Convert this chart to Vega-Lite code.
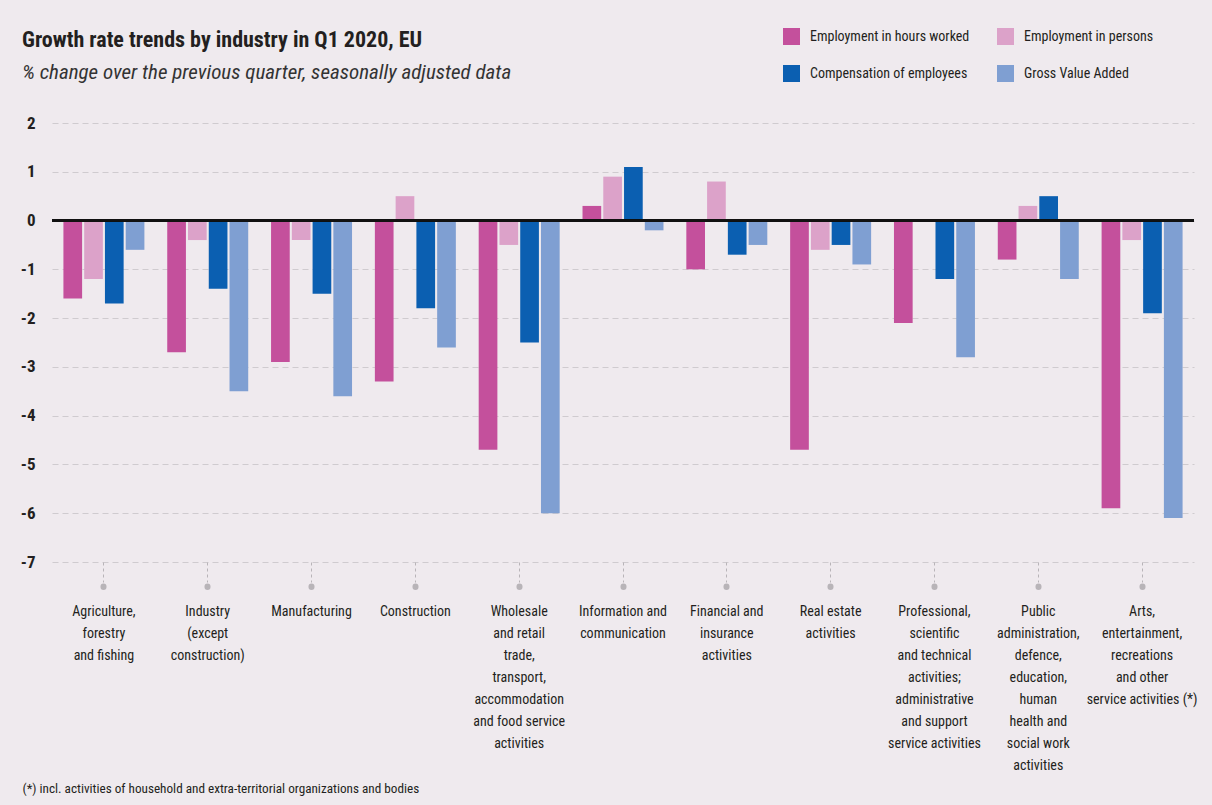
{
  "$schema": "https://vega.github.io/schema/vega-lite/v6.json",
  "autosize": "none",
  "width": 1142,
  "height": 439,
  "padding": {"left": 52, "top": 123, "right": 18, "bottom": 243},
  "background": "#efeaee",
  "config": {
    "view": {"stroke": null},
    "font": "Roboto Condensed, DejaVu Sans Condensed, Liberation Sans Narrow, Roboto"
  },
  "title": {
    "text": "Growth rate trends by industry in Q1 2020, EU",
    "subtitle": "% change over the previous quarter, seasonally adjusted data",
    "anchor": "start",
    "frame": "group",
    "dx": -30,
    "offset": -56,
    "font": "Roboto Condensed, DejaVu Sans Condensed, Liberation Sans Narrow, Roboto",
    "fontSize": 22,
    "fontWeight": "bold",
    "color": "#231f20",
    "subtitleFont": "Roboto Condensed, DejaVu Sans Condensed, Liberation Sans Narrow, Roboto",
    "subtitleFontSize": 21,
    "subtitleFontStyle": "italic",
    "subtitleColor": "#333333",
    "subtitlePadding": 10
  },
  "data": {
    "values": [
      {"industry": "Agriculture,\nforestry\nand fishing", "measure": "Employment in hours worked", "value": -1.6},
      {"industry": "Agriculture,\nforestry\nand fishing", "measure": "Employment in persons", "value": -1.2},
      {"industry": "Agriculture,\nforestry\nand fishing", "measure": "Compensation of employees", "value": -1.7},
      {"industry": "Agriculture,\nforestry\nand fishing", "measure": "Gross Value Added", "value": -0.6},
      {"industry": "Industry\n(except\nconstruction)", "measure": "Employment in hours worked", "value": -2.7},
      {"industry": "Industry\n(except\nconstruction)", "measure": "Employment in persons", "value": -0.4},
      {"industry": "Industry\n(except\nconstruction)", "measure": "Compensation of employees", "value": -1.4},
      {"industry": "Industry\n(except\nconstruction)", "measure": "Gross Value Added", "value": -3.5},
      {"industry": "Manufacturing", "measure": "Employment in hours worked", "value": -2.9},
      {"industry": "Manufacturing", "measure": "Employment in persons", "value": -0.4},
      {"industry": "Manufacturing", "measure": "Compensation of employees", "value": -1.5},
      {"industry": "Manufacturing", "measure": "Gross Value Added", "value": -3.6},
      {"industry": "Construction", "measure": "Employment in hours worked", "value": -3.3},
      {"industry": "Construction", "measure": "Employment in persons", "value": 0.5},
      {"industry": "Construction", "measure": "Compensation of employees", "value": -1.8},
      {"industry": "Construction", "measure": "Gross Value Added", "value": -2.6},
      {"industry": "Wholesale\nand retail\ntrade,\ntransport,\naccommodation\nand food  service\nactivities", "measure": "Employment in hours worked", "value": -4.7},
      {"industry": "Wholesale\nand retail\ntrade,\ntransport,\naccommodation\nand food  service\nactivities", "measure": "Employment in persons", "value": -0.5},
      {"industry": "Wholesale\nand retail\ntrade,\ntransport,\naccommodation\nand food  service\nactivities", "measure": "Compensation of employees", "value": -2.5},
      {"industry": "Wholesale\nand retail\ntrade,\ntransport,\naccommodation\nand food  service\nactivities", "measure": "Gross Value Added", "value": -6.0},
      {"industry": "Information and\ncommunication", "measure": "Employment in hours worked", "value": 0.3},
      {"industry": "Information and\ncommunication", "measure": "Employment in persons", "value": 0.9},
      {"industry": "Information and\ncommunication", "measure": "Compensation of employees", "value": 1.1},
      {"industry": "Information and\ncommunication", "measure": "Gross Value Added", "value": -0.2},
      {"industry": "Financial  and\ninsurance\nactivities", "measure": "Employment in hours worked", "value": -1.0},
      {"industry": "Financial  and\ninsurance\nactivities", "measure": "Employment in persons", "value": 0.8},
      {"industry": "Financial  and\ninsurance\nactivities", "measure": "Compensation of employees", "value": -0.7},
      {"industry": "Financial  and\ninsurance\nactivities", "measure": "Gross Value Added", "value": -0.5},
      {"industry": "Real estate\nactivities", "measure": "Employment in hours worked", "value": -4.7},
      {"industry": "Real estate\nactivities", "measure": "Employment in persons", "value": -0.6},
      {"industry": "Real estate\nactivities", "measure": "Compensation of employees", "value": -0.5},
      {"industry": "Real estate\nactivities", "measure": "Gross Value Added", "value": -0.9},
      {"industry": "Professional,\nscientific\nand technical\nactivities;\nadministrative\nand support\nservice activities", "measure": "Employment in hours worked", "value": -2.1},
      {"industry": "Professional,\nscientific\nand technical\nactivities;\nadministrative\nand support\nservice activities", "measure": "Employment in persons", "value": 0.0},
      {"industry": "Professional,\nscientific\nand technical\nactivities;\nadministrative\nand support\nservice activities", "measure": "Compensation of employees", "value": -1.2},
      {"industry": "Professional,\nscientific\nand technical\nactivities;\nadministrative\nand support\nservice activities", "measure": "Gross Value Added", "value": -2.8},
      {"industry": "Public\nadministration,\ndefence,\neducation,\nhuman\nhealth and\nsocial work\nactivities", "measure": "Employment in hours worked", "value": -0.8},
      {"industry": "Public\nadministration,\ndefence,\neducation,\nhuman\nhealth and\nsocial work\nactivities", "measure": "Employment in persons", "value": 0.3},
      {"industry": "Public\nadministration,\ndefence,\neducation,\nhuman\nhealth and\nsocial work\nactivities", "measure": "Compensation of employees", "value": 0.5},
      {"industry": "Public\nadministration,\ndefence,\neducation,\nhuman\nhealth and\nsocial work\nactivities", "measure": "Gross Value Added", "value": -1.2},
      {"industry": "Arts,\nentertainment,\nrecreations\nand other\nservice activities (*)", "measure": "Employment in hours worked", "value": -5.9},
      {"industry": "Arts,\nentertainment,\nrecreations\nand other\nservice activities (*)", "measure": "Employment in persons", "value": -0.4},
      {"industry": "Arts,\nentertainment,\nrecreations\nand other\nservice activities (*)", "measure": "Compensation of employees", "value": -1.9},
      {"industry": "Arts,\nentertainment,\nrecreations\nand other\nservice activities (*)", "measure": "Gross Value Added", "value": -6.1}
    ]
  },
  "layer": [
    {
      "mark": {"type": "bar"},
      "encoding": {
        "x": {
          "field": "industry",
          "type": "nominal",
          "sort": null,
          "scale": {"paddingInner": 0.22, "paddingOuter": 0.11},
          "axis": {
            "orient": "bottom",
            "domain": false,
            "labelAngle": 0,
            "labelExpr": "split(datum.label, '\\n')",
            "labelFontSize": 14,
            "labelColor": "#231f20",
            "labelLineHeight": 22,
            "labelBaseline": "top",
            "labelPadding": 22,
            "labelLimit": 200,
            "tickColor": "#b8b4b8",
            "tickDash": [3, 3],
            "tickSize": 20,
            "tickWidth": 1,
            "title": "(*) incl. activities of household and extra-territorial organizations and bodies",
            "titleFontSize": 13.2,
            "titleFontWeight": "normal",
            "titleColor": "#231f20",
            "titleAnchor": "start",
            "titleAlign": "left",
            "titleBaseline": "alphabetic",
            "titleX": -30,
            "titleY": 230
          }
        },
        "xOffset": {
          "field": "measure",
          "type": "nominal",
          "sort": ["Employment in hours worked", "Employment in persons", "Compensation of employees", "Gross Value Added"],
          "scale": {"paddingInner": 0.1, "paddingOuter": 0}
        },
        "y": {
          "field": "value",
          "type": "quantitative",
          "scale": {"domain": [-7, 2], "nice": false, "zero": false},
          "axis": {
            "title": null,
            "values": [-7, -6, -5, -4, -3, -2, -1, 0, 1, 2],
            "labelExpr": "toString(datum.value)",
            "domain": false,
            "ticks": false,
            "labelFontSize": 17,
            "labelFontWeight": "bold",
            "labelColor": "#231f20",
            "labelPadding": 17,
            "gridColor": "#cfcbcf",
            "gridDash": [6, 4],
            "gridWidth": 1
          }
        },
        "color": {
          "field": "measure",
          "type": "nominal",
          "scale": {
            "domain": ["Employment in hours worked", "Employment in persons", "Compensation of employees", "Gross Value Added"],
            "range": ["#c4509c", "#dca2c9", "#0b5fb1", "#7f9fd2"]
          },
          "legend": {
            "title": null,
            "orient": "none",
            "legendX": 731,
            "legendY": -95,
            "columns": 2,
            "direction": "horizontal",
            "symbolType": "square",
            "symbolSize": 289,
            "symbolStrokeWidth": 0,
            "labelFontSize": 14,
            "labelColor": "#231f20",
            "labelOffset": 10,
            "rowPadding": 20,
            "columnPadding": 27,
            "labelLimit": 250
          }
        }
      }
    },
    {
      "mark": {"type": "point", "opacity": 0},
      "encoding": {
        "x": {
          "field": "industry",
          "type": "nominal",
          "sort": null,
          "axis": {
            "orient": "bottom",
            "domain": false,
            "labels": false,
            "title": null,
            "offset": 24,
            "tickColor": "#b8b4b8",
            "tickCap": "round",
            "tickWidth": 6,
            "tickSize": 0.5
          }
        },
        "y": {"datum": 0}
      }
    },
    {
      "mark": {"type": "rule", "color": "#111111", "strokeWidth": 1.6},
      "encoding": {"y": {"datum": 0}}
    }
  ],
  "resolve": {"axis": {"x": "independent"}}
}
